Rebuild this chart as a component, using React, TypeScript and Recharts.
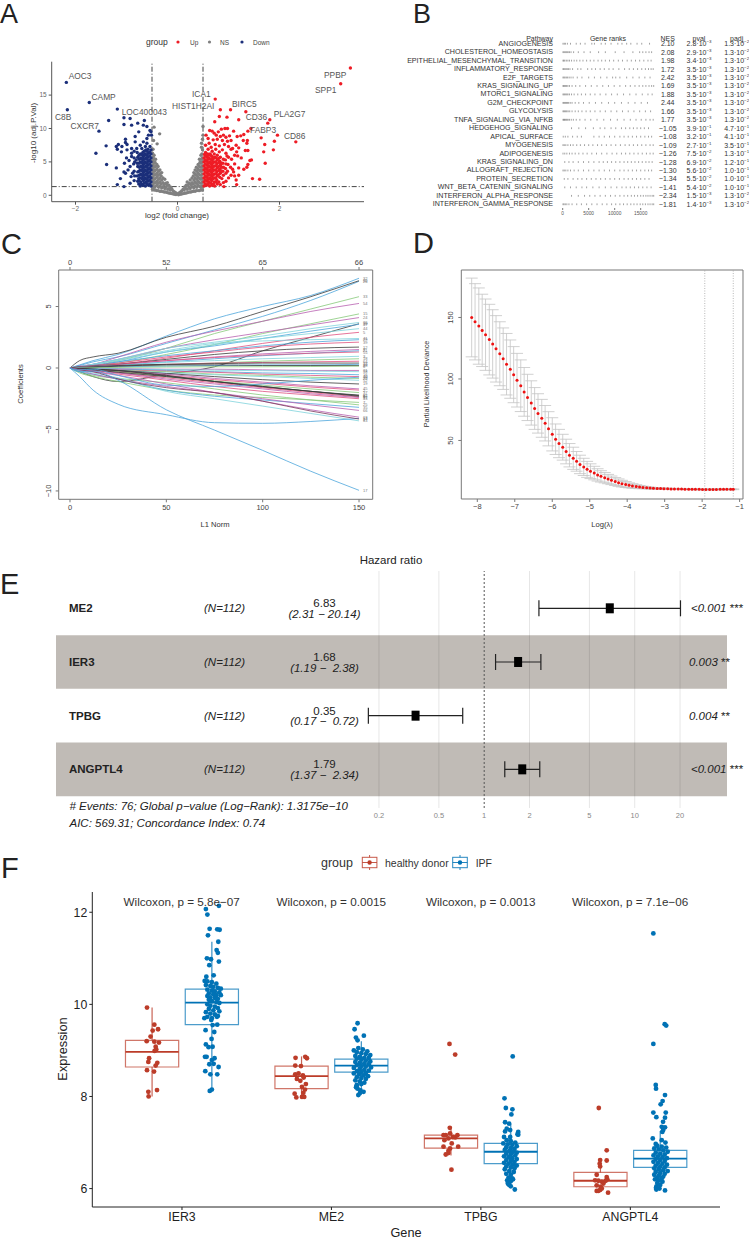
import React from 'react';
import {
  ComposedChart, LineChart, ScatterChart, Scatter, Line, XAxis, YAxis, ReferenceLine, ReferenceArea, ErrorBar,
} from 'recharts';

const FONT = '"Liberation Sans", Arial, sans-serif';
type Pair = number[];

// ---- A: volcano
const volcanoUp: Pair[] = [
  [3.39,19.05],[3.2,16.7],[.74,14.4],[.84,12.8],[1.04,12.8],[1.34,12.5],[1.81,11.3],[1.77,10.8],[.97,11.7],[.82,11.8],[1.2,11.3],[.73,11],
  [1.44,10],[1.96,9],[2.32,8],[1.64,8.6],[1.9,8.1],[1.71,7.6],[1.88,6.8],[1.69,6.5],[1.72,4.8],[1.47,2.5],[1.61,2.4],[1.16,1.6],[.91,1.3],
  [.56,9],[.6,8.5],[.63,9.7],[.68,9.6],[.72,9.3],[.76,9],[.8,9.5],[.86,9.9],[.93,10],[.98,10],[.78,8.4],[.84,8.8],[.9,9],[.95,8.7],[1.02,8.9],
  [1.1,9.6],[1.17,8.8],[1.24,8.9],[1.3,9.1],[1.38,9.6],[1.05,8.2],[.98,8.1],[.88,8.2],[.7,8.3],[.62,7.8],[.55,7.5],[.66,7.2],[.74,7.6],[.82,7.4],
  [.92,7.6],[1,7.3],[1.08,7],[1.15,7.5],[1.2,7.1],[1.29,8.2],[1.37,8.2],[1.36,7.8],[1.33,6.7],[1.38,6.7],[1.45,5.3],[1.42,5.2],[1.38,4.6],[1.3,3.9],
  [1.36,4.2],[1.2,4.1],[1.12,4.7],[1.25,5.6],[1.18,5.9],[1.12,6],[1.06,5.4],[1,5.7],[.95,6.3],[.88,6.8],[.82,6.5],[.75,6.9],[.68,6.6],[.6,6.9],[.55,6.4],
  [1.05,6.9],[1.16,6.5],[1.1,3.5],[1.05,3],[1,2.6],[1.12,2.9],[.98,3.6],[1.2,3],[1.15,2.3],[.95,2.1],[.9,1.9],[.87,2.5],[1.04,4.2],[.99,4.6],[1.08,3.9],
  [.52,1.4],[.52,2],[.52,2.6],[.52,3.2],[.52,3.8],[.52,4.4],[.52,5],[.52,5.6],[.53,6.1],
  [.57,1.5],[.58,2.1],[.57,2.7],[.58,3.3],[.57,3.9],[.58,4.5],[.57,5.1],[.58,5.7],[.59,6.2],
  [.63,1.4],[.62,2],[.63,2.6],[.62,3.2],[.63,3.8],[.62,4.4],[.63,5],[.62,5.6],[.64,6.2],
  [.68,1.5],[.67,2.2],[.68,2.8],[.67,3.4],[.68,4],[.67,4.6],[.68,5.2],[.68,5.8],
  [.73,1.4],[.72,2],[.73,2.6],[.72,3.2],[.73,3.8],[.72,4.4],[.73,5],[.73,5.7],[.72,6.2],
  [.78,1.7],[.77,2.3],[.78,2.9],[.77,3.5],[.78,4.1],[.77,4.7],[.78,5.3],[.78,6],
  [.84,1.6],[.83,2.7],[.84,3.3],[.83,3.9],[.84,4.5],[.83,5.1],[.84,5.7],
  [.9,3],[.89,3.6],[.9,4.2],[.89,4.8],[.9,5.4],[.95,3.3],[.94,4],[.95,4.7],[.94,5.3],[.97,5.9],
  [.545,1.7],[.545,2.3],[.545,2.9],[.545,3.5],[.545,4.1],[.545,4.7],[.545,5.3],[.55,5.9],
  [.6,1.7],[.6,2.4],[.6,3],[.6,3.6],[.6,4.2],[.6,4.8],[.6,5.4],[.6,6],
  [.655,1.8],[.65,2.4],[.655,3],[.65,3.6],[.655,4.2],[.65,4.8],[.655,5.4],[.65,6],
  [.705,1.7],[.7,2.5],[.705,3.1],[.7,3.7],[.705,4.3],[.7,4.9],[.705,5.5],
  [.755,2],[.75,2.6],[.755,3.2],[.75,3.8],[.755,4.4],[.75,5],[.755,5.6],
  [.81,2],[.805,3.1],[.81,3.7],[.805,4.3],[.81,4.9],[.805,5.5],[.86,3.6],[.865,4.2],[.86,4.8],
];
const volcanoDown: Pair[] = [
  [-2.18,16.9],[-2.16,12.8],[-1.73,13.9],[-1.18,12.9],[-1.35,11.2],[-1.05,11.6],[-.93,11.5],[-1.05,10.6],[-.9,10.5],[-.78,10.8],[-.65,11.2],[-1.54,9.6],
  [-1.6,6.3],[-1.4,7.4],[-1.39,4.6],[-1.2,4.1],[-1.18,1.6],[-.67,10.5],[-.6,10.3],[-.54,9.7],[-.52,9.5],[-.57,9],[-.76,9.5],[-.83,8.8],[-.6,8.5],[-.51,9],
  [-1.02,8.4],[-1.02,7.9],[-1.16,7.6],[-1.2,7.3],[-1.09,7.3],[-.99,7.6],[-1.18,6.9],[-1.1,6.5],[-.99,6.8],[-.83,8],[-.73,7.5],[-.67,8],[-.6,7.8],[-.54,7.3],
  [-.9,7],[-.8,7],[-.9,6.3],[-1.04,4.8],[-1.12,2.5],[-1.05,3.5],[-1.02,3.3],[-.93,4.3],[-.91,2.8],[-.88,3.3],[-.9,5.8],[-.81,5.3],[-.78,4.3],[-.76,2.5],
  [-.93,1.8],[-.76,1.7],[-.7,7],[-.63,7.3],[-.85,6.6],[-.95,5.2],[-1,5.6],[-.86,4.7],[-.97,3.8],[-.85,2.2],[-1.05,1.3],
  [-.52,1.4],[-.52,2],[-.52,2.6],[-.52,3.2],[-.52,3.8],[-.52,4.4],[-.52,5],[-.52,5.6],[-.52,6.2],[-.52,6.8],
  [-.57,1.5],[-.58,2.1],[-.57,2.7],[-.58,3.3],[-.57,3.9],[-.58,4.5],[-.57,5.1],[-.58,5.7],[-.57,6.3],[-.58,6.9],
  [-.63,1.4],[-.62,2],[-.63,2.6],[-.62,3.2],[-.63,3.8],[-.62,4.4],[-.63,5],[-.62,5.6],[-.63,6.2],[-.62,6.8],
  [-.68,1.5],[-.67,2.2],[-.68,2.8],[-.67,3.4],[-.68,4],[-.67,4.6],[-.68,5.2],[-.67,5.8],[-.68,6.4],
  [-.73,1.4],[-.72,2],[-.73,2.6],[-.72,3.2],[-.73,3.8],[-.72,4.4],[-.73,5],[-.72,5.6],[-.73,6.2],
  [-.78,2.1],[-.79,2.9],[-.78,3.5],[-.79,4.8],[-.78,5.7],[-.79,6.4],[-.84,2.9],[-.85,3.6],[-.84,5],[-.85,5.6],
  [-.545,1.7],[-.545,2.3],[-.545,2.9],[-.545,3.5],[-.545,4.1],[-.545,4.7],[-.545,5.3],[-.545,5.9],[-.545,6.5],
  [-.6,1.7],[-.6,2.4],[-.6,3],[-.6,3.6],[-.6,4.2],[-.6,4.8],[-.6,5.4],[-.6,6],[-.6,6.6],
  [-.655,1.8],[-.65,2.4],[-.655,3],[-.65,3.6],[-.655,4.2],[-.65,4.8],[-.655,5.4],[-.65,6],[-.655,6.6],
  [-.705,1.7],[-.7,2.5],[-.705,3.1],[-.7,3.7],[-.705,4.3],[-.7,4.9],[-.705,5.5],[-.7,6.1],
  [-.755,2.2],[-.75,3],[-.755,3.6],[-.75,4.2],[-.755,4.8],[-.75,5.4],[-.755,6],
];
const volcanoNs: Pair[] = [
  [-.49,.9],[-.49,1.5],[-.48,2.1],[-.49,2.7],[-.48,3.3],[-.49,3.9],[-.48,4.5],[-.49,5.1],[-.48,5.7],[-.49,6.3],[-.48,6.9],
  [-.43,.8],[-.44,1.3],[-.43,1.9],[-.44,2.5],[-.43,3.1],[-.44,3.7],[-.43,4.3],[-.44,4.9],[-.43,5.4],
  [-.38,.7],[-.37,1.2],[-.38,1.8],[-.37,2.4],[-.38,3],[-.37,3.6],[-.38,4.3],
  [-.32,.6],[-.31,1.1],[-.32,1.7],[-.31,2.3],[-.32,2.9],[-.31,3.4],
  [-.26,.5],[-.25,1],[-.26,1.6],[-.25,2.4],[-.2,.4],[-.19,.9],[-.2,1.5],[-.2,1.9],
  [-.14,.3],[-.14,.8],[-.13,1.2],[-.08,.2],[-.08,.6],[-.03,.1],[-.02,.3],
  [.02,.08],[.03,.3],[.08,.2],[.08,.65],[.14,.3],[.13,.8],[.14,1.25],[.2,.4],[.19,.9],[.2,1.5],[.19,2],
  [.26,.5],[.25,1],[.26,1.6],[.25,2.3],[.31,.6],[.32,1.1],[.31,1.7],[.32,2.3],[.31,2.9],[.32,3.4],
  [.37,.7],[.38,1.2],[.37,1.8],[.38,2.4],[.37,3],[.38,3.6],[.37,4.2],
  [.43,.7],[.44,1.3],[.43,1.9],[.44,2.5],[.43,3.1],[.44,3.7],[.43,4.3],[.44,4.9],[.43,5.4],
  [.49,.8],[.48,1.4],[.49,2],[.48,2.6],[.49,3.2],[.48,3.8],[.49,4.4],[.48,5],[.49,5.6],[.48,6.2],[.49,6.8],[.47,7.2],
  [-.46,10.2],[-.35,9.2],[-.47,8.2],[-.4,7.7],[.5,10.3],[.5,9],[.49,8.4],[.47,7.8],
  [-.46,.8],[-.46,1.2],[-.46,1.8],[-.46,2.4],[-.46,3],[-.46,3.6],[-.46,4.2],[-.46,4.8],[-.46,5.4],[-.46,6],
  [-.405,.7],[-.405,1.5],[-.405,2.1],[-.405,2.7],[-.405,3.3],[-.405,3.9],[-.405,4.6],
  [-.345,.6],[-.345,1.4],[-.345,2],[-.345,2.6],[-.345,3.2],[-.345,3.8],
  [-.285,.55],[-.285,1.3],[-.285,1.9],[-.285,2.6],[-.23,.5],[-.23,1.2],[-.23,1.8],[-.17,.35],[-.17,1],[-.17,1.5],[-.11,.25],[-.11,.9],[-.05,.15],[-.05,.45],
  [.05,.15],[.05,.45],[.11,.25],[.11,.9],[.17,.35],[.17,1],[.17,1.5],[.23,.5],[.23,1.2],[.23,1.8],
  [.285,.55],[.285,1.3],[.285,1.9],[.285,2.6],[.345,.6],[.345,1.4],[.345,2],[.345,2.6],[.345,3.2],[.345,3.8],
  [.405,.7],[.405,1.5],[.405,2.1],[.405,2.7],[.405,3.3],[.405,3.9],[.405,4.6],
  [.46,.8],[.46,1.2],[.46,1.8],[.46,2.4],[.46,3],[.46,3.6],[.46,4.2],[.46,4.8],[.46,5.4],[.46,6],
];
const volcanoXTicks = [-2, 0, 2];
const volcanoYTicks = [0, 5, 10, 15];

// ---- B: GSEA table
const pathways = ['ANGIOGENESIS','CHOLESTEROL_HOMEOSTASIS','EPITHELIAL_MESENCHYMAL_TRANSITION','INFLAMMATORY_RESPONSE','E2F_TARGETS','KRAS_SIGNALING_UP','MTORC1_SIGNALING','G2M_CHECKPOINT','GLYCOLYSIS','TNFA_SIGNALING_VIA_NFKB','HEDGEHOG_SIGNALING','APICAL_SURFACE','MYOGENESIS','ADIPOGENESIS','KRAS_SIGNALING_DN','ALLOGRAFT_REJECTION','PROTEIN_SECRETION','WNT_BETA_CATENIN_SIGNALING','INTERFERON_ALPHA_RESPONSE','INTERFERON_GAMMA_RESPONSE'];
const nesValues = ['2.10','2.08','1.98','1.72','2.42','1.69','1.88','2.44','1.66','1.77','−1.05','−1.08','−1.09','−1.26','−1.28','−1.30','−1.34','−1.41','−2.34','−1.81'];
const pvalMant = ['2.8','2.9','3.4','3.5','3.5','3.5','3.5','3.5','3.5','3.5','3.9','3.2','2.7','7.5','6.9','5.6','5.5','5.4','1.5','1.4'];
const pvalExp = ['−3','−3','−3','−3','−3','−3','−3','−3','−3','−3','−1','−1','−1','−2','−2','−2','−2','−2','−3','−3'];
const padjMant = ['1.3','1.3','1.3','1.3','1.3','1.3','1.3','1.3','1.3','1.3','4.7','4.1','3.5','1.3','1.2','1.0','1.0','1.0','1.3','1.3'];
const padjExp = ['−2','−2','−2','−2','−2','−2','−2','−2','−2','−2','−1','−1','−1','−1','−1','−1','−1','−1','−2','−2'];
const geneRanks: number[][] = [
  [60,300,520,900,1500,2600,3400,4300,5600,6100,7400,8200,9300,10600,11400,12300,13100,14300,15200,16700],
  [60,250,450,650,850,1050,1300,1600,2100,3000,4100,5300,6900,8200,10100,11800,13500,14800,15400,16000,16600,17100],
  [60,200,400,700,1000,1300,1700,2200,2700,3300,3900,4600,5300,6000,6800,7500,8200,9000,9800,10700,11500,12400,13200,14000,14800,15600,16400,17000],
  [60,220,430,650,870,1100,1400,1900,2900,3500,4800,5600,6300,7200,8000,8900,9700,10800,11900,12800,13600,14400,15200,15900,16500,17000,17400],
  [60,250,450,700,950,1250,1600,2000,2800,3700,5000,6100,7300,8500,9600,10200,11000,12300,13500,14700,15800,16800],
  [60,200,380,570,760,1000,1300,1800,2500,3300,4400,5500,6600,7700,8800,9900,11000,12100,13000,13900,14700,15400,16000,16600,17100,17500],
  [60,240,420,620,820,1020,1300,1700,2200,2900,3600,4400,5300,6200,7200,8300,9400,10500,11700,12900,14100,15300,16400,17200],
  [60,220,400,580,760,950,1150,1450,1800,2400,3100,4000,5100,6300,7500,8800,10000,11300,12600,13900,15100,16300],
  [60,230,410,600,800,1050,1350,1800,2400,3000,3700,4500,5300,6200,7200,8200,9300,10400,11500,12600,13700,14800,15900,16900],
  [60,190,340,500,680,860,1050,1300,1650,2050,2600,3300,4300,5400,6600,7900,9200,10500,11800,13000,14100,15100,16000,16800,17400],
  [1700,3100,4400,5900,7200,8100,9300,10200,11300,12100,12900,13600,14300,15000,15700,16500],
  [100,500,1000,1900,2800,3600,6000,7000,8000,9000,10000,11000,11800,12600,13400,14200,15000,15800,16500,17100],
  [60,300,600,1000,1500,2000,2700,3400,4200,5000,5800,6700,7500,8400,9300,10200,11100,12000,12800,13600,14400,15200,16000,16800,17400],
  [60,400,800,1300,1800,2400,3100,3900,4700,5600,6500,7500,8500,9500,10400,11300,12100,12900,13700,14500,15300,16100,16800,17400],
  [400,1200,2000,3000,4000,5000,6000,7000,7800,8600,9400,10200,11000,11800,12500,13200,13900,14600,15300,16000,16600,17200],
  [60,300,600,1000,1500,2200,3000,4000,5000,6000,7000,8000,9000,10000,11000,11800,12600,13400,14200,15000,15800,16500,17100],
  [300,1000,2000,2900,3700,4600,5500,6400,7300,8200,9100,10000,10900,11800,12600,13400,14200,15000,15800,16600],
  [400,1500,2600,3700,4600,5800,7000,8200,9300,10400,11400,12200,13000,13800,14600,15400,16200,17000],
  [1700,3000,4200,5200,6200,7200,8200,9200,10100,11000,11800,12500,13200,13800,14400,15000,15500,16000,16400,16800,17200,17500],
  [60,250,500,800,1200,1800,2700,3600,4600,5600,6600,7600,8500,9400,10200,11000,11700,12400,13100,13700,14300,14900,15400,15900,16400,16800,17200,17500],
];
const rankTicks = [0, 5000, 10000, 15000];

// ---- C: lasso paths
const lassoL1 = [0, 5, 12, 25, 50, 75, 100, 125, 150];
const lassoNames = ['32','26','60','33','54','15','24','50','36','47','44','5','41','29','39','12','8','21','55','3','18','64','27','10','48','6','31','58','16','40','22','52','19','45','2','37','62','11','4','57','9','43','7','25','35','66','63','13','53','1','17','38'];
const lassoColors = ['#4da6dc','#4da6dc','#3a3a3a','#86c97a','#b85fb0','#86c97a','#b85fb0','#3a3a3a','#7fd3dc','#4da6dc','#7fd3dc','#e0517f','#7fd3dc','#4da6dc','#e0517f','#3a3a3a','#b85fb0','#4da6dc','#e0517f','#7fd3dc','#86c97a','#e0517f','#3a3a3a','#4da6dc','#3a3a3a','#86c97a','#b85fb0','#7fd3dc','#4da6dc','#e0517f','#86c97a','#7fd3dc','#3a3a3a','#b85fb0','#e0517f','#86c97a','#3a3a3a','#3a3a3a','#e0517f','#b85fb0','#3a3a3a','#e0517f','#86c97a','#86c97a','#4da6dc','#b85fb0','#7fd3dc','#b85fb0','#4da6dc','#7a3a5a','#4da6dc','#4da6dc'];
const lassoPaths: number[][] = [
  [0,.25,.6,1.1,2.6,4,5,5.9,7.3],
  [0,.2,.5,.9,2,3.1,4.2,5.5,7.05],
  [0,.6,.9,1.2,2.5,3.4,4.6,5.8,7.1],
  [0,.1,.2,.6,1.6,2.8,3.8,4.8,5.8],
  [0,.15,.3,.9,2.1,3,3.8,4.6,5.25],
  [0,.05,.15,.4,1.1,1.9,2.8,3.6,4.4],
  [0,.1,.3,.7,1.6,2.3,2.9,3.5,4.1],
  [0,-.3,-.7,-1.1,-.5,.1,1.4,2.5,3.6],
  [0,.1,.3,.7,1.6,2.1,2.6,3.2,3.7],
  [0,.1,.2,.5,1.3,1.8,2.4,3,3.55],
  [0,.1,.3,.6,1.3,1.9,2.4,2.8,3.2],
  [0,.05,.1,.3,.8,1.4,2,2.5,2.9],
  [0,.1,.3,.7,1.4,2,2.2,2.3,2.4],
  [0,.1,.2,.5,1,1.4,1.8,2.1,2.3],
  [0,.1,.2,.4,.9,1.3,1.7,1.95,2.1],
  [0,.1,.15,.3,.7,1.1,1.4,1.6,1.7],
  [0,.05,.1,.25,.6,.9,1.15,1.35,1.5],
  [0,.05,.1,.2,.5,.75,1,1.2,1.4],
  [0,.05,.1,.3,.6,.85,1.05,1.2,1.3],
  [0,.05,.1,.2,.45,.6,.75,.85,.95],
  [0,.02,.05,.1,.25,.4,.55,.65,.75],
  [0,.05,.1,.15,.3,.4,.45,.5,.55],
  [0,.05,.1,.2,.3,.35,.4,.4,.4],
  [0,.02,.05,.1,.15,.2,.25,.25,.3],
  [0,.02,.05,.15,.25,.25,.2,.2,.2],
  [0,0,.02,.05,.08,.1,.1,.12,.15],
  [0,-.02,-.05,-.05,-.1,-.1,-.15,-.2,-.2],
  [0,-.02,-.05,-.08,-.12,-.18,-.22,-.25,-.3],
  [0,-.05,-.1,-.1,-.2,-.3,-.4,-.45,-.55],
  [0,-.05,-.1,-.15,-.25,-.35,-.5,-.6,-.7],
  [0,-.05,-.1,-.2,-.3,-.5,-.6,-.75,-.85],
  [0,-.05,-.15,-.2,-.4,-.55,-.7,-.85,-1],
  [0,-.05,-.1,-.2,-.45,-.7,-.95,-1.15,-1.3],
  [0,-.08,-.15,-.25,-.5,-.85,-1.15,-1.45,-1.7],
  [0,-.08,-.15,-.3,-.6,-.95,-1.25,-1.55,-1.8],
  [0,-.1,-.2,-.3,-.7,-1.05,-1.4,-1.7,-2],
  [0,-.05,-.1,-.2,-.6,-1.1,-1.5,-1.9,-2.2],
  [0,-.05,-.1,-.22,-.65,-1.1,-1.55,-1.9,-2.25],
  [0,-.1,-.2,-.4,-.8,-1.2,-1.6,-2,-2.35],
  [0,-.1,-.2,-.4,-.9,-1.3,-1.7,-2.1,-2.4],
  [0,-.05,-.15,-.35,-.7,-1.1,-1.5,-1.9,-2.3],
  [0,-.15,-.3,-.5,-1,-1.5,-1.9,-2.2,-2.5],
  [0,-.4,-.7,-1.1,-1.8,-2.2,-2.4,-2.6,-2.8],
  [0,-.3,-.6,-.85,-1.2,-1.7,-2.2,-2.6,-3],
  [0,-.3,-.5,-.9,-1.8,-2.3,-2.6,-2.9,-3.2],
  [0,-.2,-.5,-.9,-1.5,-2,-2.5,-3,-3.45],
  [0,-.2,-.4,-.8,-1.9,-2.5,-3.1,-3.7,-4.3],
  [0,-.15,-.3,-.6,-1.3,-2,-2.7,-3.4,-4],
  [0,-.7,-1.8,-2.95,-3.8,-4.45,-4.5,-4.35,-4.1],
  [0,-.15,-.3,-.9,-1.6,-2,-2.7,-3.5,-4.15],
  [0,-.3,-.25,-1,-3.4,-5.05,-6.7,-8.4,-9.95],
  [0,-.15,-.1,-.6,-1.4,-1.5,-1.3,-1,-.75],
];
const lassoTopLabels = ['0', '52', '65', '66'];
const lassoTicks = [0, 50, 100, 150];

// ---- D: cross validation
const cvLogLambda = [-8.15,-8.06,-7.96,-7.87,-7.78,-7.68,-7.59,-7.5,-7.4,-7.31,-7.22,-7.12,-7.03,-6.94,-6.84,-6.75,-6.66,-6.56,-6.47,-6.38,-6.28,-6.19,-6.1,-6,-5.91,-5.82,-5.72,-5.63,-5.54,-5.44,-5.35,-5.26,-5.16,-5.07,-4.98,-4.88,-4.79,-4.7,-4.6,-4.51,-4.42,-4.32,-4.23,-4.14,-4.04,-3.95,-3.86,-3.76,-3.67,-3.58,-3.48,-3.39,-3.3,-3.2,-3.11,-3.02,-2.92,-2.83,-2.74,-2.64,-2.55,-2.46,-2.36,-2.27,-2.18,-2.08,-1.99,-1.9,-1.8,-1.71,-1.62,-1.52,-1.43,-1.34,-1.24,-1.17];
const cvMean = [150,146.5,143,139.5,136,132,128.5,124.5,120.5,116.5,112,108,103.5,99,94.5,89.5,85,80.5,76,72,68,64,59.5,55,51,47.5,44.5,41,38,35.5,33,30.5,28.5,26.5,25,23.5,22,20.8,19.7,18.6,17.6,16.6,15.7,14.9,14.2,13.5,13,12.5,12.1,11.8,11.5,11.3,11.1,11,10.9,10.8,10.7,10.6,10.6,10.5,10.5,10.4,10.4,10.3,10.3,10.3,10.2,10.2,10.2,10.2,10.2,10.3,10.3,10.3,10.3,10.3];
const cvError = [32,31,31,29.4,29,28.7,27.8,27,26,25,25,23.7,22.8,21.8,21,19.8,18.8,18,17,16,15.4,14.4,13.9,13.5,12.4,11.5,10.5,10,9.5,9,8,7.5,7,6.5,6,5.5,5,4.6,4.2,3.8,3.5,3.2,3,2.7,2.4,2,1.8,1.5,1.3,1,.8,.7,.6,.5,.5,.4,.4,.4,.4,.3,.3,.3,.3,.3,.3,.3,.3,.3,.3,.3,.3,.3,.3,.3,.3,.3];
const cvTopTicks = [-8.15,-7.68,-7.22,-6.75,-6.29,-5.82,-5.36,-4.89,-4.43,-3.96,-3.5,-3.03,-2.57,-2.1,-1.64,-1.28];
const cvTopLabels = ['66','66','66','65','66','61','57','54','50','44','35','28','27','20','7','1'];
const cvXTicks = [-8,-7,-6,-5,-4,-3,-2,-1];
const cvYTicks = [50, 100, 150];

// ---- E: forest
const forestGenes = ['ME2', 'IER3', 'TPBG', 'ANGPTL4'];
const forestHr = [6.83, 1.68, 0.35, 1.79];
const forestLow = [2.31, 1.19, 0.17, 1.37];
const forestHigh = [20.14, 2.38, 0.72, 2.34];
const forestCi = ['(2.31 − 20.14)', '(1.19 −\u00a0 2.38)', '(0.17 −\u00a0 0.72)', '(1.37 −\u00a0 2.34)'];
const forestP = ['<0.001', '0.003', '0.004', '<0.001'];
const forestStars = ['***', '**', '**', '***'];
const forestTicks = [0.2, 0.5, 1, 2, 5, 10, 20];

// ---- F: boxplots, boxes are [low, q1, median, q3, high]
const boxGenes = ['IER3', 'ME2', 'TPBG', 'ANGPTL4'];
const boxTests = ['Wilcoxon, p = 5.8e−07', 'Wilcoxon, p = 0.0015', 'Wilcoxon, p = 0.0013', 'Wilcoxon, p = 7.1e−06'];
const healthyBoxes = [[8, 8.64, 8.97, 9.22, 9.93], [8, 8.17, 8.44, 8.66, 8.87], [6.72, 6.88, 7.09, 7.16, 7.35], [5.93, 6.04, 6.17, 6.35, 6.6]];
const ipfBoxes = [[8.12, 9.56, 10.04, 10.33, 11.36], [8.1, 8.53, 8.67, 8.81, 9.2], [6.03, 6.54, 6.8, 6.98, 7.4], [6.03, 6.46, 6.65, 6.83, 7.25]];
const healthyDots: Pair[] = [
  [.766,9.93],[.815,9.56],[.84,9.46],[.804,9.43],[.79,9.3],[.764,9.2],[.815,9.19],[.846,9.17],[.824,9.08],[.817,8.99],[.828,9.02],[.78,8.83],[.775,8.75],[.835,8.73],[.824,8.67],[.813,8.54],[.766,8.57],[.775,8.1],[.833,8.14],[.777,8],
  [1.76,8.84],[1.825,8.86],[1.836,8.83],[1.758,8.67],[1.796,8.66],[1.758,8.48],[1.78,8.5],[1.809,8.46],[1.769,8.38],[1.792,8.34],[1.814,8.41],[1.829,8.27],[1.803,8.21],[1.823,8.15],[1.754,8.06],[1.765,7.98],[1.803,7.99],[1.818,7.99],[1.812,8.08],
  [2.79,9.14],[2.828,8.91],[2.792,7.32],[2.75,7.16],[2.765,7.16],[2.794,7.2],[2.843,7.16],[2.828,7.11],[2.756,7.05],[2.783,7.09],[2.812,7.12],[2.75,6.91],[2.805,6.98],[2.848,6.91],[2.794,6.87],[2.783,6.82],[2.765,6.74],[2.783,6.77],[2.803,6.41],
  [3.789,7.75],[3.842,6.83],[3.798,6.62],[3.842,6.61],[3.795,6.54],[3.798,6.48],[3.775,6.3],[3.842,6.25],[3.846,6.2],[3.835,6.17],[3.764,6.18],[3.786,6.17],[3.809,6.15],[3.82,6.11],[3.775,6.07],[3.802,6.04],[3.809,6],[3.775,5.95],[3.798,5.97],[3.851,5.91],[3.786,5.95],
];
const ipfDots: Pair[] = [
  [1.16,12.07],[1.247,12.14],[1.17,11.95],[1.185,11.64],[1.236,11.63],[1.252,11.62],[1.174,11.5],[1.243,11.36],[1.232,11.18],[1.24,11.12],[1.247,10.93],[1.167,11],[1.194,10.98],[1.183,10.85],[1.212,10.63],[1.163,10.6],[1.152,10.51],[1.17,10.5],[1.2,10.48],[1.23,10.45],[1.16,10.42],[1.19,10.4],[1.21,10.38],[1.24,10.36],[1.26,10.34],[1.17,10.32],[1.2,10.3],[1.22,10.28],[1.25,10.26],[1.18,10.24],[1.21,10.22],[1.23,10.2],[1.26,10.2],[1.17,10.18],[1.19,10.15],[1.22,10.14],[1.24,10.12],[1.18,10.1],[1.2,10.07],[1.23,10.05],[1.25,10.03],[1.17,10],[1.19,9.97],[1.22,9.95],[1.24,9.92],[1.18,9.9],[1.21,9.87],[1.25,9.85],[1.16,9.83],[1.19,9.8],[1.22,9.78],[1.24,9.75],[1.17,9.73],[1.2,9.7],[1.15,9.7],[1.234,9.73],[1.196,9.66],[1.205,9.55],[1.236,9.56],[1.158,9.44],[1.216,9.4],[1.198,9.25],[1.16,9.13],[1.205,9.08],[1.178,9.07],[1.165,8.86],[1.154,8.86],[1.218,8.83],[1.2,8.79],[1.183,8.7],[1.212,8.71],[1.156,8.55],[1.245,8.64],[1.19,8.48],[1.236,8.48],[1.2,8.15],[1.186,8.12],
  [2.175,9.59],[2.155,9.46],[2.217,9.32],[2.164,9.28],[2.175,9.22],[2.18,9.05],[2.15,9],[2.21,9.02],[2.24,8.98],[2.17,8.96],[2.2,8.94],[2.23,8.92],[2.26,8.9],[2.16,8.88],[2.19,8.86],[2.22,8.84],[2.25,8.84],[2.17,8.82],[2.2,8.8],[2.23,8.78],[2.26,8.76],[2.16,8.75],[2.19,8.73],[2.22,8.72],[2.25,8.7],[2.17,8.68],[2.2,8.66],[2.23,8.65],[2.265,8.63],[2.15,8.62],[2.19,8.6],[2.22,8.58],[2.25,8.56],[2.17,8.55],[2.2,8.53],[2.23,8.51],[2.15,8.5],[2.185,8.48],[2.215,8.46],[2.245,8.44],[2.17,8.42],[2.2,8.4],[2.23,8.38],[2.16,8.35],[2.19,8.33],[2.22,8.3],[2.2,8.27],[2.17,8.24],[2.165,8.2],[2.17,8.25],[2.175,8.17],[2.195,8.13],[2.215,8.1],[2.18,8.03],[2.19,8.07],
  [3.213,8.87],[3.158,7.96],[3.167,7.75],[3.211,7.72],[3.204,7.61],[3.162,7.44],[3.189,7.41],[3.173,7.3],[3.196,7.27],[3.162,7.24],[3.25,7.23],[3.245,7.18],[3.155,7.12],[3.196,7.12],[3.25,7.17],[3.173,7.05],[3.2,7.03],[3.23,7],[3.15,6.98],[3.18,6.96],[3.21,6.95],[3.24,6.92],[3.17,6.9],[3.2,6.88],[3.225,6.86],[3.16,6.84],[3.19,6.82],[3.215,6.8],[3.24,6.78],[3.17,6.76],[3.2,6.74],[3.23,6.72],[3.155,6.7],[3.185,6.68],[3.21,6.66],[3.24,6.64],[3.17,6.62],[3.2,6.6],[3.225,6.58],[3.155,6.56],[3.185,6.54],[3.215,6.52],[3.24,6.5],[3.17,6.48],[3.2,6.46],[3.225,6.44],[3.16,6.42],[3.19,6.38],[3.22,6.36],[3.17,6.32],[3.2,6.3],[3.185,6.24],[3.21,6.22],[3.176,6.18],[3.2,6.16],[3.18,6.12],[3.215,6.2],[3.19,6.08],[3.183,6.1],[3.2,6.05],[3.227,5.98],
  [4.154,11.54],[4.23,9.57],[4.24,9.54],[4.154,9.14],[4.17,8.25],[4.172,8.17],[4.232,8.03],[4.216,7.9],[4.203,7.83],[4.154,7.65],[4.174,7.55],[4.237,7.65],[4.232,7.54],[4.219,7.45],[4.21,7.34],[4.232,7.33],[4.22,7.27],[4.214,7.23],[4.15,7.09],[4.21,7.05],[4.17,6.97],[4.235,7],[4.18,6.93],[4.21,6.91],[4.24,6.89],[4.16,6.87],[4.19,6.85],[4.22,6.83],[4.25,6.8],[4.17,6.78],[4.2,6.76],[4.23,6.74],[4.155,6.72],[4.185,6.7],[4.215,6.68],[4.245,6.66],[4.17,6.64],[4.2,6.62],[4.23,6.6],[4.155,6.58],[4.185,6.56],[4.215,6.54],[4.245,6.52],[4.17,6.5],[4.2,6.48],[4.23,6.46],[4.16,6.44],[4.19,6.42],[4.22,6.4],[4.25,6.38],[4.17,6.36],[4.2,6.34],[4.23,6.32],[4.16,6.3],[4.19,6.28],[4.22,6.26],[4.18,6.24],[4.21,6.22],[4.165,6.2],[4.19,6.18],[4.215,6.15],[4.18,6.12],[4.2,6.08],[4.175,6.05],[4.172,6.02],[4.195,6],[4.232,5.96],[4.174,5.98],
];

const toPoints = (pairs: Pair[]) => pairs.map(([x, y]) => ({ x, y }));

function Frame({ x, y, w, h, children }: any) {
  return <div style={{ position: 'absolute', left: x, top: y, width: w, height: h }}>{children}</div>;
}

// small svg label, y is the vertical centre of the text
function Txt({ x, y, s, a = 'start', fill = '#222', bold, it, rot, children }: any) {
  return (
    <text x={x} y={y} fontSize={s} textAnchor={a} fill={fill} dominantBaseline="central"
      fontWeight={bold ? 'bold' : 'normal'} fontStyle={it ? 'italic' : 'normal'}
      transform={rot ? `rotate(${rot} ${x} ${y})` : undefined}>
      {children}
    </text>
  );
}

const dotShape = (r: number, fill: string) => (p: any) => <circle cx={p.cx} cy={p.cy} r={r} fill={fill} />;
const rankMark = (p: any) => <line x1={p.cx} x2={p.cx} y1={p.cy - 0.9} y2={p.cy + 0.9} stroke="#444" strokeWidth={0.5} />;
const squareMark = (p: any) => <rect x={p.cx - 4} y={p.cy - 5} width={8} height={10} fill="#000" />;

const rTick = (p: any) => (
  <text x={p.x - 3} y={p.y} fontSize={7.5} fill="#444" textAnchor="middle" transform={`rotate(-90 ${p.x - 3} ${p.y})`}>
    {String(p.payload.value).replace('-', '−')}
  </text>
);

function Volcano() {
  return (
    <ScatterChart width={350} height={170} margin={{ top: 11.7, right: 6, left: 0, bottom: 0 }}>
      <XAxis type="number" dataKey="x" domain={[-2.467, 3.657]} ticks={volcanoXTicks} height={18.3} interval={0}
        tick={{ fontSize: 6.5, fill: '#666' }} tickSize={3} tickFormatter={(v) => String(v).replace('-', '−')} stroke="#555" />
      <YAxis type="number" dataKey="y" domain={[-0.96, 20]} ticks={volcanoYTicks} width={31.7} interval={0}
        tick={{ fontSize: 6.5, fill: '#666' }} tickSize={3} stroke="#555" />
      <Scatter data={toPoints(volcanoNs)} shape={dotShape(1.7, '#808080')} isAnimationActive={false} />
      <Scatter data={toPoints(volcanoUp)} shape={dotShape(1.7, '#ee1c25')} isAnimationActive={false} />
      <Scatter data={toPoints(volcanoDown)} shape={dotShape(1.7, '#1b2f7a')} isAnimationActive={false} />
      <ReferenceLine x={-0.5} stroke="#444" strokeDasharray="5 2 1 2" />
      <ReferenceLine x={0.5} stroke="#444" strokeDasharray="5 2 1 2" />
      <ReferenceLine y={1.3} stroke="#444" strokeDasharray="5 2 1 2" />
    </ScatterChart>
  );
}

function GeneRanks() {
  const marks = geneRanks.flatMap((row, i) => row.map((x) => ({ x, y: i })));
  return (
    <ScatterChart width={104} height={185} margin={{ top: 0, right: 4, left: 0, bottom: 0 }}>
      <XAxis type="number" dataKey="x" domain={[-519, 18711]} ticks={rankTicks} height={17} interval={0} axisLine={false}
        tick={{ fontSize: 4.8, fill: '#555' }} tickSize={2} stroke="#777" />
      <YAxis type="number" dataKey="y" domain={[-0.44, 19.44]} reversed hide />
      <Scatter data={marks} shape={rankMark} isAnimationActive={false} />
    </ScatterChart>
  );
}

function LassoPaths() {
  const table = lassoL1.map((x, i) => {
    const row: any = { x };
    lassoPaths.forEach((path, k) => { row['s' + k] = path[i]; });
    return row;
  });
  return (
    <LineChart width={365} height={270} data={table} margin={{ top: 0, right: 2.3, left: 0, bottom: 0 }}>
      <XAxis xAxisId={0} type="number" dataKey="x" domain={[-5.86, 157.1]} ticks={lassoTicks} height={20.7} interval={0} axisLine={false}
        tick={{ fontSize: 7.5, fill: '#444' }} tickSize={3} stroke="#777" />
      <XAxis xAxisId="top" orientation="top" type="number" dataKey="x" domain={[-5.86, 157.1]} ticks={lassoTicks} height={20} interval={0} axisLine={false}
        tick={{ fontSize: 7.5, fill: '#444' }} tickSize={3} stroke="#777" tickFormatter={(v, i) => lassoTopLabels[i]} />
      <YAxis type="number" domain={[-10.68, 7.97]} ticks={[-10, -5, 0, 5]} width={48.7} interval={0} axisLine={false}
        tick={rTick} tickSize={3} stroke="#777" />
      <ReferenceArea x1={-5.86} x2={157.1} y1={-10.68} y2={7.97} fill="none" stroke="#777" />
      {lassoPaths.map((path, k) => (
        <Line key={k} dataKey={'s' + k} type="monotone" stroke={lassoColors[k]} strokeWidth={0.8} dot={false} isAnimationActive={false}
          label={(p: any) => (p.index === lassoL1.length - 1
            ? <text x={p.x + 4} y={p.y + 1.5} fontSize={4} fill="#777">{lassoNames[k]}</text> : <g />)} />
      ))}
    </LineChart>
  );
}

function CvCurve() {
  const points = cvLogLambda.map((x, i) => ({ x, y: cvMean[i], err: cvError[i] }));
  return (
    <ScatterChart width={302.3} height={269} margin={{ top: 0, right: 2.3, left: 0, bottom: 0 }}>
      <XAxis type="number" dataKey="x" domain={[-8.427, -0.91]} ticks={cvXTicks} height={20} interval={0} axisLine={false}
        tick={{ fontSize: 7.5, fill: '#444' }} tickSize={3} stroke="#777" tickFormatter={(v) => String(v).replace('-', '−')} />
      <XAxis xAxisId="top" orientation="top" type="number" dataKey="x" domain={[-8.427, -0.91]} ticks={cvTopTicks} height={20} interval={0} axisLine={false}
        tick={{ fontSize: 7.5, fill: '#444' }} tickLine={false} tickFormatter={(v, i) => cvTopLabels[i]} />
      <YAxis type="number" dataKey="y" domain={[2.4, 188.6]} ticks={cvYTicks} width={18.3} interval={0} axisLine={false}
        tick={rTick} tickSize={3} stroke="#777" />
      <ReferenceArea x1={-8.427} x2={-0.91} y1={2.4} y2={188.6} fill="none" stroke="#777" />
      <ReferenceLine x={-1.93} stroke="#999" strokeWidth={0.7} strokeDasharray="1 1.5" />
      <ReferenceLine x={-1.17} stroke="#999" strokeWidth={0.7} strokeDasharray="1 1.5" />
      <Scatter data={points} shape={dotShape(1.5, '#ee1111')} isAnimationActive={false}>
        <ErrorBar dataKey="err" direction="y" width={6} stroke="#c4c4c4" strokeWidth={0.8} isAnimationActive={false} />
      </Scatter>
    </ScatterChart>
  );
}

function Forest() {
  const rows = forestHr.map((x, i) => ({ x, y: i + 1, ci: [x - forestLow[i], forestHigh[i] - x] }));
  const left = 0.00143;
  const right = 41.4;
  return (
    <ComposedChart width={671.6} height={255} margin={{ top: 0, right: 0, left: 0, bottom: 0 }}>
      <XAxis type="number" dataKey="x" scale="log" domain={[left, right]} allowDataOverflow ticks={forestTicks} height={18} interval={0}
        axisLine={false} tickLine={false} tick={{ fontSize: 7.5, fill: '#888', dy: -3 }} />
      <YAxis type="number" dataKey="y" domain={[0.305, 4.72]} reversed hide />
      <ReferenceArea x1={left} x2={right} y1={1.5} y2={2.5} fill="#c0bbb6" fillOpacity={1} stroke="none" />
      <ReferenceArea x1={left} x2={right} y1={3.5} y2={4.5} fill="#c0bbb6" fillOpacity={1} stroke="none" />
      {forestTicks.map((t) => (t === 1
        ? <ReferenceLine key={t} x={t} stroke="#555" strokeDasharray="2 2" />
        : <ReferenceLine key={t} x={t} stroke="#000" strokeOpacity={0.1} />))}
      <Scatter data={rows} shape={squareMark} isAnimationActive={false}>
        <ErrorBar dataKey="ci" direction="x" width={8} stroke="#222" strokeWidth={1.2} isAnimationActive={false} />
      </Scatter>
    </ComposedChart>
  );
}

function Boxes() {
  const red = '#bc3c29';
  const blue = '#0072b5';
  const drawBox = (box: number[], x: number, color: string, key: string) => {
    const [lo, q1, med, q3, hi] = box;
    return [
      <ReferenceLine key={key + 'a'} segment={[{ x, y: lo }, { x, y: q1 }]} stroke={color} strokeOpacity={0.8} strokeWidth={1.2} />,
      <ReferenceLine key={key + 'b'} segment={[{ x, y: q3 }, { x, y: hi }]} stroke={color} strokeOpacity={0.8} strokeWidth={1.2} />,
      <ReferenceArea key={key + 'c'} x1={x - 0.178} x2={x + 0.178} y1={q1} y2={q3} fill="none" stroke={color} strokeOpacity={0.7} strokeWidth={1.2} />,
      <ReferenceLine key={key + 'd'} segment={[{ x: x - 0.178, y: med }, { x: x + 0.178, y: med }]} stroke={color} strokeWidth={1.8} />,
    ];
  };
  return (
    <ScatterChart width={718} height={348} margin={{ top: 10, right: 2, left: 0, bottom: 0 }}>
      <XAxis type="number" dataKey="x" domain={[0.4, 4.6]} ticks={[1, 2, 3, 4]} height={23} interval={0}
        tick={{ fontSize: 12.3, fill: '#222' }} tickSize={3} stroke="#222" tickFormatter={(v) => boxGenes[v - 1]} />
      <YAxis type="number" dataKey="y" domain={[5.6, 12.44]} ticks={[6, 8, 10, 12]} width={88.3} interval={0}
        tick={{ fontSize: 12.3, fill: '#222' }} tickSize={3} stroke="#222" />
      {boxGenes.flatMap((g, i) => [
        ...drawBox(healthyBoxes[i], i + 0.8, red, g + 'h'),
        ...drawBox(ipfBoxes[i], i + 1.2, blue, g + 'i'),
      ])}
      <Scatter data={toPoints(healthyDots)} shape={dotShape(2.4, red)} isAnimationActive={false} />
      <Scatter data={toPoints(ipfDots)} shape={dotShape(2.4, blue)} isAnimationActive={false} />
    </ScatterChart>
  );
}

function LegendIcon({ x, color }: any) {
  return (
    <g stroke={color} strokeWidth={1} fill="none" strokeOpacity={0.85}>
      <line x1={x + 7.3} x2={x + 7.3} y1={855} y2={870} />
      <rect x={x} y={857.3} width={14.6} height={10.4} fill="#fff" />
      <line x1={x} x2={x + 14.6} y1={862.5} y2={862.5} />
      <circle cx={x + 7.3} cy={862.5} r={2.2} fill={color} stroke="none" />
    </g>
  );
}

const volcanoLabels: [string, number, number][] = [
  ['AOC3', 68.7, 76], ['CAMP', 91.5, 96.5], ['C8B', 55, 116.5], ['CXCR7', 70.5, 125.7], ['LOC400043', 121.7, 112],
  ['ICA1', 192, 93.5], ['HIST1H2AI', 172, 106], ['BIRC5', 232, 104], ['CD36', 245.7, 117], ['PLA2G7', 273.7, 114],
  ['FABP3', 250, 130], ['CD86', 284, 135.7], ['PPBP', 324, 75], ['SPP1', 315, 90],
];

function Annotations() {
  const rowY = (i: number) => 43.7 + 8.45 * i;
  const forestY = (i: number) => 608.3 + 53.7 * i;
  return (
    <svg width={749} height={1239} style={{ position: 'absolute', left: 0, top: 0, pointerEvents: 'none' }} fontFamily={FONT}>
      <Txt x={0} y={13.5} s={27}>A</Txt>
      <Txt x={413} y={13.5} s={27}>B</Txt>
      <Txt x={1} y={244} s={29}>C</Txt>
      <Txt x={413} y={243} s={29}>D</Txt>
      <Txt x={0} y={584} s={29}>E</Txt>
      <Txt x={1} y={868} s={29}>F</Txt>

      {/* A */}
      <Txt x={146} y={42} s={8.5} fill="#333">group</Txt>
      <circle cx={178} cy={42} r={1.6} fill="#ee1c25" />
      <Txt x={190} y={42} s={6.5} fill="#444">Up</Txt>
      <circle cx={209.5} cy={42} r={1.6} fill="#808080" />
      <Txt x={220} y={42} s={6.5} fill="#444">NS</Txt>
      <circle cx={242} cy={42} r={1.6} fill="#1b2f7a" />
      <Txt x={253} y={42} s={6.5} fill="#444">Down</Txt>
      <Txt x={33} y={133} s={8} a="middle" fill="#333" rot={-90}>-log10 (adj.P.Val)</Txt>
      <Txt x={177} y={215} s={8} a="middle" fill="#333">log2 (fold change)</Txt>
      {volcanoLabels.map(([t, x, y]) => <Txt key={t} x={x} y={y} s={8.4} fill="#555">{t}</Txt>)}

      {/* B */}
      <Txt x={553} y={38} s={7} a="end" fill="#333">Pathway</Txt>
      <Txt x={608} y={38} s={7} a="middle" fill="#333">Gene ranks</Txt>
      <Txt x={667.7} y={38} s={7} a="middle" fill="#333">NES</Txt>
      <Txt x={699} y={38} s={7} a="middle" fill="#333">pval</Txt>
      <Txt x={736.7} y={38} s={7} a="middle" fill="#333">padj</Txt>
      {pathways.map((p, i) => (
        <g key={p}>
          <Txt x={553} y={rowY(i)} s={7.1} a="end" fill="#333">{p}</Txt>
          <Txt x={667.7} y={rowY(i)} s={7} a="middle" fill="#333">{nesValues[i]}</Txt>
          <Txt x={699} y={rowY(i)} s={7} a="middle" fill="#333">{pvalMant[i]}·10<tspan fontSize={4.4} dy={-2.5}>{pvalExp[i]}</tspan></Txt>
          <Txt x={736.7} y={rowY(i)} s={7} a="middle" fill="#333">{padjMant[i]}·10<tspan fontSize={4.4} dy={-2.5}>{padjExp[i]}</tspan></Txt>
        </g>
      ))}

      {/* C, D */}
      <Txt x={20} y={384} s={7.6} a="middle" fill="#333" rot={-90}>Coefficients</Txt>
      <Txt x={215} y={524} s={7.6} a="middle" fill="#333">L1 Norm</Txt>
      <Txt x={426.7} y={384} s={7.2} a="middle" fill="#333" rot={-90}>Partial Likelihood Deviance</Txt>
      <Txt x={602} y={524} s={7.6} a="middle" fill="#333">Log(λ)</Txt>

      {/* E */}
      <Txt x={391} y={560} s={11.5} a="middle" fill="#222">Hazard ratio</Txt>
      {forestGenes.map((g, i) => (
        <g key={g}>
          <Txt x={69} y={forestY(i)} s={11.5} bold>{g}</Txt>
          <Txt x={204} y={forestY(i)} s={11.5} it>(N=112)</Txt>
          <Txt x={324.5} y={forestY(i) - 5} s={11.5} a="middle">{forestHr[i].toFixed(2)}</Txt>
          <Txt x={324.5} y={forestY(i) + 5.5} s={11.5} a="middle" it>{forestCi[i]}</Txt>
          <Txt x={forestP[i].length > 5 ? 691 : 689} y={forestY(i)} s={11.5} it>{forestP[i]} <tspan fontStyle="normal">{forestStars[i]}</tspan></Txt>
        </g>
      ))}
      <Txt x={69.5} y={805.7} s={11.5} it># Events: 76; Global p−value (Log−Rank): 1.3175e−10</Txt>
      <Txt x={69.5} y={823} s={11.5} it>AIC: 569.31; Concordance Index: 0.74</Txt>

      {/* F */}
      <Txt x={321} y={863} s={12.5} fill="#333">group</Txt>
      <LegendIcon x={362.3} color="#bc3c29" />
      <Txt x={385} y={863} s={10.5} fill="#333">healthy donor</Txt>
      <LegendIcon x={452.7} color="#0072b5" />
      <Txt x={475.7} y={863} s={10.5} fill="#333">IPF</Txt>
      {boxTests.map((t, i) => <Txt key={t} x={181.7 + 149.5 * i} y={901.7} s={11.7} a="middle" fill="#333">{t}</Txt>)}
      <Txt x={62} y={1049} s={12.8} a="middle" fill="#222" rot={-90}>Expression</Txt>
      <Txt x={406} y={1233} s={12.7} a="middle" fill="#222">Gene</Txt>
    </svg>
  );
}

export default function App() {
  return (
    <div style={{ position: 'absolute', left: 0, top: 0, width: 749, height: 1239, background: '#fff', overflow: 'hidden', fontFamily: FONT }}>
      <Frame x={20} y={50} w={350} h={170}><Volcano /></Frame>
      <Frame x={560} y={40} w={104} h={185}><GeneRanks /></Frame>
      <Frame x={10} y={250} w={365} h={270}><LassoPaths /></Frame>
      <Frame x={442.7} y={250} w={302.3} h={269}><CvCurve /></Frame>
      <Frame x={55.7} y={571} w={671.6} h={255}><Forest /></Frame>
      <Frame x={4} y={881.7} w={718} h={348}><Boxes /></Frame>
      <Annotations />
    </div>
  );
}
